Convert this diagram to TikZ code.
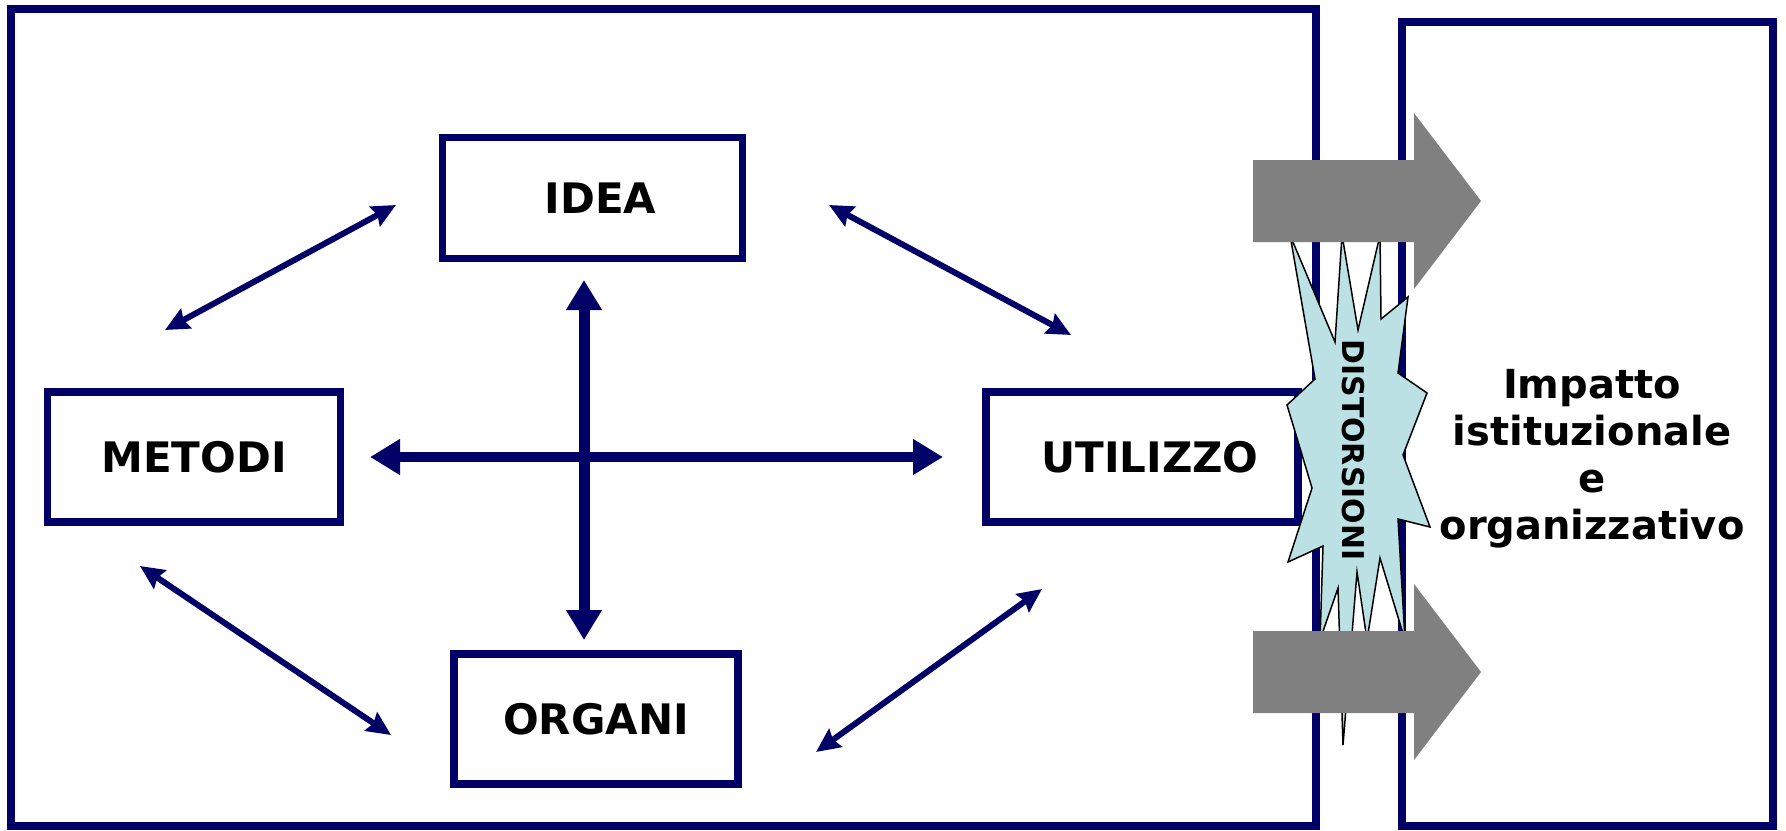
\documentclass[tikz,border=0pt]{standalone}
\usepackage{fontspec}
\setmainfont{DejaVu Sans}
\usetikzlibrary{arrows.meta}
\definecolor{NavyLine}{HTML}{000066}
\definecolor{BurstBlue}{HTML}{BCE1E5}
\definecolor{ArrowGray}{HTML}{808080}
\tikzset{
  frame/.style={draw=NavyLine, line width=4pt},
  box/.style={draw=NavyLine, line width=3.6pt, inner sep=0pt, font=\bfseries\fontsize{21}{25}\selectfont},
  link/.style={NavyLine, line width=3pt, {Stealth[length=12pt,width=11pt,inset=1.5pt]}-{Stealth[length=12pt,width=11pt,inset=1.5pt]}},
  crossarrow/.style={NavyLine, line width=5.5pt, {Triangle[length=15pt,width=17pt]}-{Triangle[length=15pt,width=17pt]}},
}

\begin{document}
\begin{tikzpicture}[x=0.5pt,y=-0.5pt]
        \useasboundingbox (0,0) rectangle (1786,830);
        % cornici
        \draw[frame] (11,9) rectangle (1316,826);
        \draw[frame] (1402,22) rectangle (1773,826);
        % riquadri
        \node[box, minimum width=150pt, minimum height=60.3pt] (idea) at (592.5,198) {\hspace{8pt}IDEA};
        \node[box, minimum width=146.5pt, minimum height=65pt] (metodi) at (194,457) {METODI};
        \node[box, minimum width=156pt, minimum height=65pt] (utilizzo) at (1142,457) {\hspace{8pt}UTILIZZO};
        \node[box, minimum width=142pt, minimum height=65pt] (organi) at (596,719) {ORGANI};
        % frecce incrociate
        \coordinate (vtop) at (584,280); \coordinate (vbot) at (584,640);
        \coordinate (hleft) at (370,457); \coordinate (hright) at (943,457);
        \draw[crossarrow] (vbot) -- (vtop);
        \draw[crossarrow, line width=5pt] (hleft) -- (hright);
        % frecce diagonali
        \coordinate (mi1) at (165,330); \coordinate (mi2) at (396,205);
        \coordinate (iu1) at (829,205); \coordinate (iu2) at (1071,335);
        \coordinate (mo1) at (140,566); \coordinate (mo2) at (391,735);
        \coordinate (ou1) at (816,752); \coordinate (ou2) at (1042,589);
        \draw[link] (mi1) -- (mi2);
        \draw[link] (iu1) -- (iu2);
        \draw[link] (mo1) -- (mo2);
        \draw[link] (ou1) -- (ou2);
        % esplosione
        \draw[fill=BurstBlue, line width=0.75pt] (1290,235) -- (1335,342) -- (1342,235) -- (1358,330)
          -- (1380,235) -- (1381,319) -- (1408,297) -- (1398,373) -- (1427,393) -- (1403,455)
          -- (1430,527) -- (1398,519) -- (1405,640) -- (1380,558) -- (1367,640) -- (1357,572)
          -- (1343,745) -- (1338,588) -- (1320,640) -- (1323,546) -- (1288,562) -- (1312,488)
          -- (1287,405) -- (1315,379) -- cycle;
        \node[rotate=-90, inner sep=0pt, font=\bfseries\fontsize{15}{18}\selectfont] (distorsioni) at (1353,450) {DISTORSIONI};
        % frecce grigie
        \foreach \yc in {201,672}
          \fill[ArrowGray] (1253,\yc-41) -- (1414,\yc-41) -- (1414,\yc-88) -- (1481,\yc)
            -- (1414,\yc+88) -- (1414,\yc+41) -- (1253,\yc+41) -- cycle;
        \node[align=center, font=\bfseries\fontsize{20}{23.5}\selectfont] (impatto) at (1592,459) {Impatto\\istituzionale\\e\\organizzativo};
\end{tikzpicture}
\end{document}
